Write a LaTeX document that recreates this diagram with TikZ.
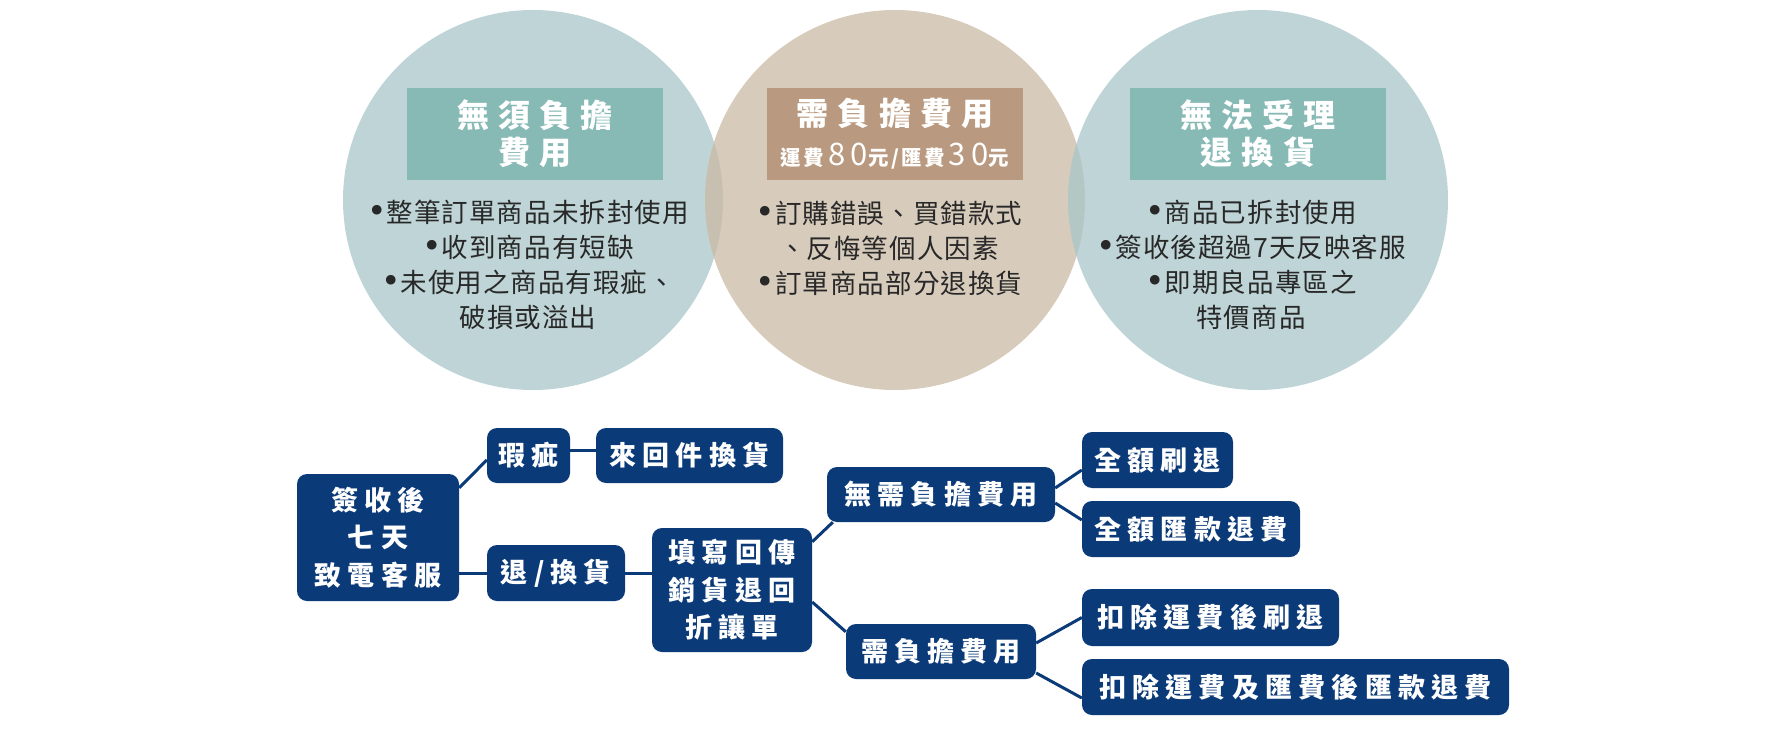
\documentclass[tikz,border=0pt]{standalone}
\usepackage{fontspec}
\setmainfont{Noto Sans CJK TC}
\newfontfamily\itemfont[LetterSpace=4]{Noto Sans CJK TC}
\newfontfamily\dotfont{DejaVu Sans}
\newfontfamily\titlefont[LetterSpace=29]{Noto Sans CJK TC}
\newfontfamily\notefont[LetterSpace=12]{Noto Sans CJK TC}
\newfontfamily\digitfont[LetterSpace=18]{Noto Sans CJK TC}
\newfontfamily\flowfont[LetterSpace=23]{Noto Sans CJK TC}

\newcommand{\dotitem}{{\dotfont\fontsize{33}{35}\selectfont •}}
\newcommand{\notesm}[1]{{\notefont\bfseries\fontsize{20.5}{24}\selectfont #1}}
\newcommand{\notenum}[1]{{\digitfont\mdseries\fontsize{31}{24}\selectfont #1}}

\definecolor{circteal}{RGB}{168,198,200}
\definecolor{circbeige}{RGB}{202,186,166}
\definecolor{boxteal}{RGB}{135,185,181}
\definecolor{boxbrown}{RGB}{185,153,127}
\definecolor{itemgray}{RGB}{40,40,40}
\definecolor{flowblue}{RGB}{11,58,121}

\tikzset{
  bubble/.style={circle, minimum size=380pt, inner sep=0pt, fill opacity=0.75},
  titlebox/.style={minimum width=256pt, minimum height=92pt, inner sep=0pt, align=center,
    text=white, font=\titlefont\bfseries\fontsize{32}{37}\selectfont},
  itemtext/.style={align=center, text=itemgray, font=\itemfont\fontsize{26.5}{35}\selectfont},
  flowbox/.style={fill=flowblue, rounded corners=10pt, inner sep=0pt, align=center,
    text=white, font=\flowfont\bfseries\fontsize{27}{37.5}\selectfont},
  link/.style={draw=flowblue, line width=3pt}
}

\begin{document}
\begin{tikzpicture}[x=1pt,y=-1pt]
  \useasboundingbox (0,0) rectangle (1790,741);

  % 上方三個圓
  \node[bubble, fill=circteal] (freeC) at (533,200) {};
  \node[bubble, fill=circbeige] (feeC) at (895,200) {};
  \node[bubble, fill=circteal] (noneC) at (1258,200) {};

  % 標題方塊
  \node[titlebox, fill=boxteal] (freeT) at (535,134) {無須負擔\\費用};
  \node[titlebox, fill=boxbrown] (feeT) at (895,134) {需負擔費用\\[3pt]
    \notesm{運費}\hspace{4pt}\notenum{80}\notesm{元/匯費}\hspace{4pt}\notenum{30}\notesm{元}};
  \node[titlebox, fill=boxteal] (noneT) at (1258,134) {無法受理\\退換貨};

  % 說明文字
  \node[itemtext] (freeL) at (528,265) {\dotitem 整筆訂單商品未拆封使用\\\dotitem 收到商品有短缺\\\dotitem 未使用之商品有瑕疵、\\破損或溢出};
  \node[itemtext] (feeL) at (889,248) {\dotitem 訂購錯誤、買錯款式\\、反悔等個人因素\\\dotitem 訂單商品部分退換貨};
  \node[itemtext] (noneL) at (1251,265) {\dotitem 商品已拆封使用\\\dotitem 簽收後超過7天反映客服\\\dotitem 即期良品專區之\\特價商品};

  % 下方流程
  \node[flowbox, minimum width=162pt, minimum height=127pt] (root) at (378,537.5) {簽收後\\七天\\致電客服};
  \node[flowbox, minimum width=83pt, minimum height=55pt] (xia) at (528.5,455.5) {瑕疵};
  \node[flowbox, minimum width=187pt, minimum height=55pt] (laihui) at (689.5,455.5) {來回件換貨};
  \node[flowbox, minimum width=138pt, minimum height=56pt] (tuihuan) at (556,573) {退/換貨};
  \node[flowbox, minimum width=160pt, minimum height=124pt] (tianxie) at (732,590) {填寫回傳\\銷貨退回\\折讓單};
  \node[flowbox, minimum width=228pt, minimum height=55pt] (wuxu) at (941,494.5) {無需負擔費用};
  \node[flowbox, minimum width=151pt, minimum height=56pt] (qeShua) at (1157.5,460) {全額刷退};
  \node[flowbox, minimum width=218pt, minimum height=56pt] (qeHui) at (1191,529) {全額匯款退費};
  \node[flowbox, minimum width=190pt, minimum height=55pt] (xuFu) at (941,651.5) {需負擔費用};
  \node[flowbox, minimum width=257pt, minimum height=57pt] (kcShua) at (1210.5,617.5) {扣除運費後刷退};
  \node[flowbox, minimum width=427pt, minimum height=56pt] (kcHui) at (1295.5,687) {扣除運費及匯費後匯款退費};

  % 連接線
  \draw[link] ([yshift=-14pt]root.north east) -- ([yshift=-4.5pt]xia.west);
  \draw[link] ([yshift=5pt]xia.east) -- ([yshift=5pt]laihui.west);
  \draw[link] (tuihuan.west -| root.east) -- (tuihuan.west);
  \draw[link] (tuihuan.east) -- (tuihuan.east -| tianxie.west);
  \draw[link] ([yshift=-14pt]tianxie.north east) -- ([xshift=6pt]wuxu.south west);
  \draw[link] ([yshift=-12pt]tianxie.east) -- ([yshift=-8pt]xuFu.north west);
  \draw[link] ([yshift=6.5pt]wuxu.east) -- ([yshift=-10pt]qeShua.west);
  \draw[link] ([yshift=-8.5pt]wuxu.east) -- ([yshift=9pt]qeHui.west);
  \draw[link] ([yshift=8.5pt]xuFu.east) -- (kcShua.west);
  \draw[link] ([yshift=-21.5pt]xuFu.east) -- ([yshift=-11pt]kcHui.west);
\end{tikzpicture}
\end{document}
